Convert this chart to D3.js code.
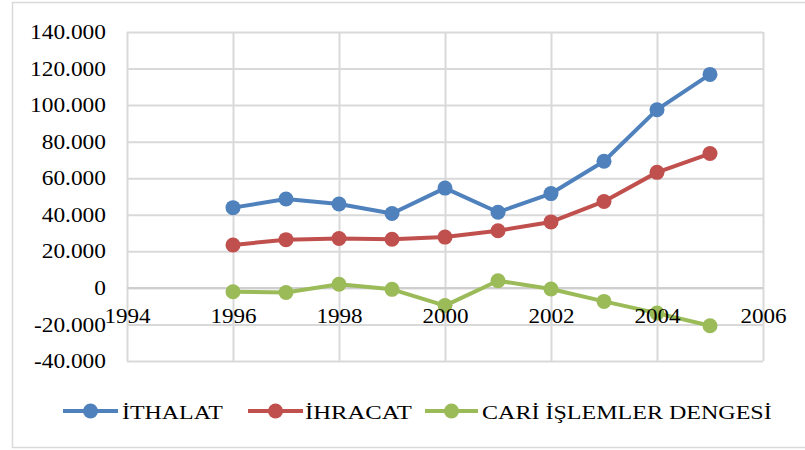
<!DOCTYPE html>
<html>
<head>
<meta charset="utf-8">
<script src="https://cdn.jsdelivr.net/npm/d3@7"></script>
<style>
  html, body { margin: 0; padding: 0; background: #fff; }
  svg { display: block; }
  text { font-family: "Liberation Serif", "Times New Roman", serif; fill: #000; }
</style>
</head>
<body>
<svg id="chart" width="805" height="450"></svg>
<script>
// ---- data ----
const years = [1996, 1997, 1998, 1999, 2000, 2001, 2002, 2003, 2004, 2005];
const ithalat = [43900, 48600, 45900, 40700, 54600, 41400, 51600, 69300, 97500, 116800];
const ihracat = [23500, 26400, 27000, 26600, 27800, 31300, 36100, 47300, 63200, 73500];
const cari = [-2100, -2500, 2000, -800, -9700, 3900, -600, -7400, -13800, -20700];
const seriesNames = ["İTHALAT", "İHRACAT", "CARİ İŞLEMLER DENGESİ"];
const yTicks = [-40000, -20000, 0, 20000, 40000, 60000, 80000, 100000, 120000, 140000];
const xTicks = [1994, 1996, 1998, 2000, 2002, 2004, 2006];

const colors = ["#4F81BD", "#C0504D", "#9BBB59"];
const seriesData = [ithalat, ihracat, cari];

const svg = d3.select("#chart");
const L = 127, R = 763, T = 32, B = 361;

// outer border
svg.append("rect")
  .attr("x", 12.5).attr("y", 2.5).attr("width", 800).attr("height", 445)
  .attr("fill", "#fff").attr("stroke", "#d9d9d9").attr("stroke-width", 1.5);

const x = d3.scaleLinear().domain([1994, 2006]).range([L, R]);
const y = d3.scaleLinear().domain([-40000, 140000]).range([B, T]);

const loc = d3.formatLocale({decimal: ",", thousands: ".", grouping: [3], currency: ["", ""], minus: "-"});
const fmt = loc.format(",d");

// horizontally stretch glyphs (reference text is wider than its height suggests)
function hscale(sel, sx) {
  sel.each(function() {
    const t = d3.select(this);
    const x0 = +(t.attr("x") || 0);
    t.attr("x", x0 / sx).attr("transform", `scale(${sx},1)`);
  });
}

// vertical gridlines
const gxg = svg.append("g").attr("transform", `translate(0,${B})`)
  .call(d3.axisBottom(x).tickValues(xTicks).tickSize(-(B - T)).tickFormat(""));
gxg.select(".domain").remove();
gxg.selectAll("line").attr("stroke", "#d9d9d9").attr("stroke-width", 2);

// horizontal gridlines
const gyg = svg.append("g").attr("transform", `translate(${L},0)`)
  .call(d3.axisLeft(y).tickValues(yTicks).tickSize(-(R - L)).tickFormat(""));
gyg.select(".domain").remove();
gyg.selectAll("line").attr("stroke", "#d9d9d9").attr("stroke-width", 2);

// zero axis line
svg.append("line")
  .attr("x1", L).attr("x2", R).attr("y1", y(0)).attr("y2", y(0))
  .attr("stroke", "#cfcfcf").attr("stroke-width", 2);

// y labels
const gy = svg.append("g").attr("transform", `translate(${L},0)`)
  .call(d3.axisLeft(y).tickValues(yTicks).tickSize(0).tickPadding(21).tickFormat(fmt));
gy.select(".domain").remove();
gy.attr("font-family", null);
gy.selectAll("text").attr("font-size", 20.7).attr("fill", "#000");
hscale(gy.selectAll("text"), 1.13);

// series
const line = d3.line().x((d, i) => x(years[i])).y(d => y(d));
seriesData.forEach((vals, si) => {
  const g = svg.append("g");
  g.append("path").datum(vals)
    .attr("d", line).attr("fill", "none")
    .attr("stroke", colors[si]).attr("stroke-width", 4)
    .attr("stroke-linejoin", "round").attr("stroke-linecap", "round");
  g.selectAll("circle").data(vals).join("circle")
    .attr("cx", (d, i) => x(years[i])).attr("cy", d => y(d))
    .attr("r", 7.5).attr("fill", colors[si]);
});

// x labels at zero line (drawn above the series, as in the reference)
const gx = svg.append("g").attr("transform", `translate(0,${y(0)})`)
  .call(d3.axisBottom(x).tickValues(xTicks).tickSize(0).tickPadding(20.5).tickFormat(d3.format("d")));
gx.select(".domain").remove();
gx.attr("font-family", null);
gx.selectAll("text").attr("font-size", 21).attr("fill", "#000");
hscale(gx.selectAll("text"), 1.1);

// legend
const legY = 411;
const legItems = [
  {x1: 63, x2: 118, tx: 122, w: 101},
  {x1: 248, x2: 303, tx: 305, w: 107},
  {x1: 425, x2: 478, tx: 482, w: 290}
];
legItems.forEach((it, i) => {
  svg.append("line").attr("x1", it.x1).attr("x2", it.x2).attr("y1", legY).attr("y2", legY)
    .attr("stroke", colors[i]).attr("stroke-width", 4);
  svg.append("circle").attr("cx", (it.x1 + it.x2) / 2).attr("cy", legY).attr("r", 7.5).attr("fill", colors[i]);
  const t = svg.append("text")
    .attr("transform", `translate(${it.tx},${legY + 7.5})`)
    .attr("font-size", 19.5).text(seriesNames[i]);
  const len = t.node().getComputedTextLength();
  t.attr("transform", `translate(${it.tx},${legY + 7.5}) scale(${it.w / len},1)`);
});
</script>
</body>
</html>
